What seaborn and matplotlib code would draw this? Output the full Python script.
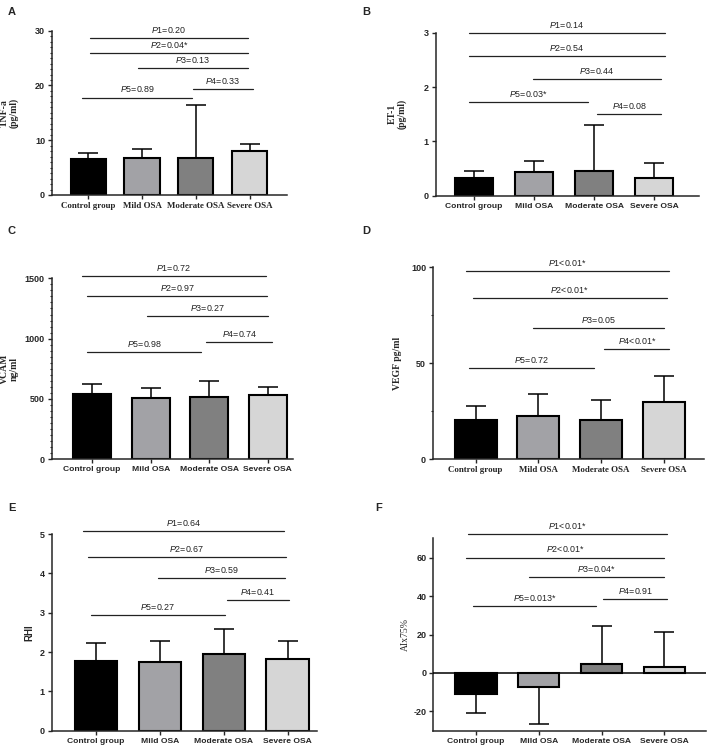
import matplotlib
matplotlib.use("Agg")
import matplotlib.pyplot as plt
from matplotlib.ticker import MultipleLocator
import seaborn as sns
import numpy as np

groups = ["Control group", "Mild OSA", "Moderate OSA", "Severe OSA"]
bar_colors = ["#000000", "#a2a2a6", "#808080", "#d6d6d6"]

tnf_mean = [6.5, 6.7, 6.8, 8.1]
tnf_sd = [1.2, 1.7, 9.6, 1.2]
et1_mean = [0.32, 0.43, 0.45, 0.33]
et1_sd = [0.13, 0.20, 0.85, 0.27]
vcam_mean = [541, 505, 519, 530]
vcam_sd = [83, 83, 132, 71]
vegf_mean = [20.5, 22.7, 20.3, 30.0]
vegf_sd = [7.3, 11.3, 10.6, 13.4]
rhi_mean = [1.77, 1.74, 1.96, 1.83]
rhi_sd = [0.47, 0.53, 0.62, 0.44]
aix_mean = [-10.7, -7.4, 4.7, 3.1]
aix_sd = [10.2, 18.9, 19.9, 18.4]

p_tnf = ["=0.20", "=0.04*", "=0.13", "=0.33", "=0.89"]
p_et1 = ["=0.14", "=0.54", "=0.44", "=0.08", "=0.03*"]
p_vcam = ["=0.72", "=0.97", "=0.27", "=0.74", "=0.98"]
p_vegf = ["<0.01*", "<0.01*", "=0.05", "<0.01*", "=0.72"]
p_rhi = ["=0.64", "=0.67", "=0.59", "=0.41", "=0.27"]
p_aix = ["<0.01*", "<0.01*", "=0.04*", "=0.91", "=0.013*"]

sns.set_style("ticks")
plt.rcParams.update({
    "font.family": ["Liberation Sans", "DejaVu Sans"],
    "mathtext.fontset": "custom",
    "mathtext.it": "Liberation Sans:italic",
    "mathtext.rm": "Liberation Sans",
    "axes.unicode_minus": False,
    "axes.linewidth": 1.1,
})

W, H = 708, 753
fig = plt.figure(figsize=(W / 100, H / 100), dpi=100)

# panel layout: letter, pixel box (left, right, top, bottom), xlim, bar width
panels = [
    dict(letter="A", letter_xy=(8, 15), box=(52, 287, 30.7, 195), xlim=(-0.67, 3.69), width=0.65,
         mean=tnf_mean, sd=tnf_sd, ylim=(0, 30), major=10, minor=1,
         ylabel="TNF-a\n(pg/ml)", ylab_font="serif", ylab_x=19, xfont="serif",
         pvals=p_tnf,
         brackets=[(0.04, 2.96, 28.7), (0.04, 2.96, 26.0), (0.93, 2.96, 23.1),
                   (1.95, 3.05, 19.3), (-0.11, 1.93, 17.8)]),
    dict(letter="B", letter_xy=(362, 15), box=(435.7, 699, 32.7, 195.7), xlim=(-0.64, 3.75), width=0.63,
         mean=et1_mean, sd=et1_sd, ylim=(0, 3), major=1, minor=None,
         ylabel="ET-1\n(pg/ml)", ylab_font="serif", ylab_x=407, xfont="sans",
         pvals=p_et1,
         brackets=[(-0.08, 3.18, 3.0), (-0.08, 3.18, 2.57), (0.98, 3.12, 2.15),
                   (2.05, 3.12, 1.50), (-0.08, 1.9, 1.73)]),
    dict(letter="C", letter_xy=(8, 234), box=(51.7, 293, 278.3, 459.3), xlim=(-0.69, 3.43), width=0.65,
         mean=vcam_mean, sd=vcam_sd, ylim=(0, 1500), major=500, minor=50,
         ylabel="VCAM\nng/ml", ylab_font="serif", ylab_x=19, xfont="sans",
         pvals=p_vcam,
         brackets=[(-0.18, 2.97, 1521), (-0.08, 2.98, 1353), (0.93, 3.0, 1188),
                   (1.95, 3.07, 969), (-0.08, 1.86, 891)]),
    dict(letter="D", letter_xy=(362, 234), box=(433, 704, 267.3, 459.3), xlim=(-0.68, 3.64), width=0.67,
         mean=vegf_mean, sd=vegf_sd, ylim=(0, 100), major=50, minor=25,
         ylabel="VEGF pg/ml", ylab_font="serif", ylab_x=402, xfont="serif",
         pvals=p_vegf,
         brackets=[(-0.16, 3.09, 97.9), (-0.05, 3.05, 83.9), (0.92, 3.01, 68.2),
                   (2.05, 3.09, 57.3), (-0.1, 1.88, 47.7)]),
    dict(letter="E", letter_xy=(8, 511), box=(51.7, 317, 534, 730.7), xlim=(-0.69, 3.46), width=0.66,
         mean=rhi_mean, sd=rhi_sd, ylim=(0, 5), major=1, minor=None,
         ylabel="RHI", ylab_font="sans", ylab_x=34, xfont="sans",
         pvals=p_rhi,
         brackets=[(-0.2, 2.95, 5.08), (-0.12, 2.97, 4.41), (0.97, 2.96, 3.88),
                   (2.05, 3.02, 3.33), (-0.08, 2.02, 2.94)]),
    dict(letter="F", letter_xy=(375, 511), box=(433.3, 705.7, 538.3, 730.7), xlim=(-0.68, 3.66), width=0.66,
         mean=aix_mean, sd=aix_sd, ylim=(-30, 70), major=20, minor=None,
         ylabel="AIx75%", ylab_font="serif", ylab_x=410, xfont="sans",
         pvals=p_aix,
         brackets=[(-0.13, 3.04, 72.3), (-0.16, 3.0, 60), (0.85, 3.0, 50),
                   (2.03, 3.04, 38.6), (-0.05, 1.91, 34.8)]),
]

serif = ["Liberation Serif", "DejaVu Serif"]
sans = ["Liberation Sans", "DejaVu Sans"]

for p in panels:
    l, r, t, b = p["box"]
    ax = fig.add_axes([l / W, 1 - b / H, (r - l) / W, (b - t) / H])

    sns.barplot(x=groups, y=p["mean"], hue=groups, palette=bar_colors, width=p["width"],
                saturation=1, edgecolor="black", linewidth=1.5, legend=False, ax=ax, zorder=2)

    mean = np.array(p["mean"], dtype=float)
    sd = np.array(p["sd"], dtype=float)
    upper = np.where(mean >= 0, sd, 0)
    lower = np.where(mean < 0, sd, 0)
    ax.errorbar(np.arange(len(groups)), mean, yerr=[lower, upper], fmt="none",
                ecolor="black", elinewidth=1.1, capsize=7, capthick=1.1, zorder=1)

    ax.set_xlim(*p["xlim"])
    ax.set_ylim(*p["ylim"])
    ax.yaxis.set_major_locator(MultipleLocator(p["major"]))
    if p["minor"]:
        ax.yaxis.set_minor_locator(MultipleLocator(p["minor"]))
    ax.tick_params(axis="both", which="major", length=3, width=1.0, direction="out", pad=2)
    ax.tick_params(axis="y", which="minor", length=1.8, width=0.8)
    sns.despine(ax=ax)

    for lab in ax.get_yticklabels():
        lab.set_fontfamily(sans)
        lab.set_fontweight("bold")
        lab.set_fontsize(6.5)
    for lab in ax.get_xticklabels():
        lab.set_fontfamily(serif if p["xfont"] == "serif" else sans)
        lab.set_fontweight("bold")
        lab.set_fontsize(6.4 if p["xfont"] == "serif" else 6.1)

    ax.set_ylabel(p["ylabel"], fontsize=7, fontweight="normal" if p["letter"] == "F" else "bold",
                  family=serif if p["ylab_font"] == "serif" else sans, linespacing=1.1)
    ax.yaxis.set_label_coords(p["ylab_x"] / W, 1 - (t + b) / 2 / H, transform=fig.transFigure)
    ax.set_xlabel("")

    if p["letter"] == "F":
        ax.axhline(0, color="black", lw=1.1, zorder=3)

    for i, (x0, x1, y) in enumerate(p["brackets"]):
        ax.plot([x0, x1], [y, y], color="#222222", lw=0.9, clip_on=False, zorder=4)
        ax.annotate(r"$\mathit{P" + str(i + 1) + "}$" + p["pvals"][i], xy=((x0 + x1) / 2, y),
                    xytext=(0, 2.2), textcoords="offset points", ha="center", va="bottom",
                    fontsize=6.4, color="#222222", annotation_clip=False)

    fig.text(p["letter_xy"][0] / W, 1 - p["letter_xy"][1] / H, p["letter"],
             fontsize=8, fontweight="bold", ha="left", va="baseline")

fig.savefig("out.png", dpi=100)
